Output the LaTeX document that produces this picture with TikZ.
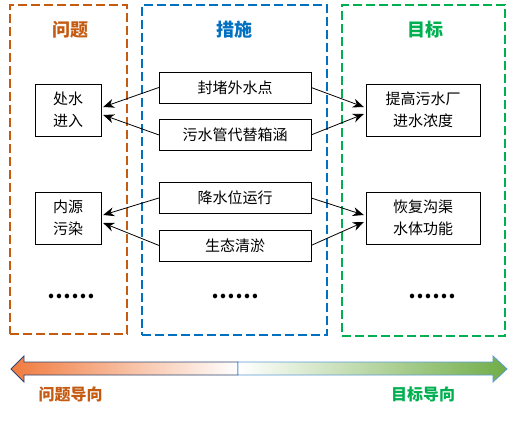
\documentclass[tikz,border=0pt]{standalone}
\usepackage{fontspec}
\newfontfamily\cjk{Noto Sans CJK SC}
\usepackage{tikz}
\usetikzlibrary{arrows,arrows.meta,shapes,positioning,calc}

\definecolor{probcolor}{HTML}{C55A11}
\definecolor{meascolor}{HTML}{0070C0}
\definecolor{goalcolor}{HTML}{00B050}
\definecolor{barorange}{HTML}{F07B3F}
\definecolor{bargreen}{HTML}{70AD47}
\definecolor{barnavy}{HTML}{2F4570}
\definecolor{barblue}{HTML}{5B9BD5}

\begin{document}
\begin{tikzpicture}[
    x=1pt, y=-1pt,
    node distance=16pt and 20pt, % vertical gap inside each pair of measures
    frame/.style={rectangle, draw=#1, line width=2.8pt, dash pattern=on 9pt off 4pt},
    title/.style={font=\cjk\bfseries\fontsize{18}{22}\selectfont, text=#1},
    issue/.style={rectangle, draw, thin, minimum width=66pt, minimum height=52pt, align=center, inner sep=0pt, font=\cjk\fontsize{15}{22}\selectfont},
    measure/.style={rectangle, draw, thin, minimum width=152pt, minimum height=31pt, inner sep=0pt, font=\cjk\fontsize{15}{22}\selectfont},
    goal/.style={rectangle, draw, thin, minimum width=114pt, minimum height=52pt, align=center, inner sep=0pt, font=\cjk\fontsize{15}{22}\selectfont},
    more/.style={font=\cjk\bfseries\fontsize{21}{21}\selectfont},
    guide/.style={font=\cjk\bfseries\fontsize{16}{20}\selectfont, text=#1},
    arrow/.style={->, line width=0.8pt, >={Stealth[length=11pt, width=9pt]}}
  ]

    \useasboundingbox (0,0) rectangle (518,420);

    % Dashed column frames
    \node[frame=probcolor, minimum width=117pt, minimum height=329pt] (probframe) at (68.5,169.5) {};
    \node[frame=meascolor, minimum width=185pt, minimum height=330pt] (measframe) at (234.5,170) {};
    \node[frame=goalcolor, minimum width=163pt, minimum height=331pt] (goalframe) at (423.5,170.5) {};

    % Column titles
    \node[title=probcolor] (probtitle) at (70.5,30) {问题};
    \node[title=meascolor] (meastitle) at (234.5,30) {措施};
    \node[title=goalcolor] (goaltitle) at (425,30) {目标};

    % Problems
    \node[issue] (inflow) at (68,110) {处水\\进入};
    \node[issue] (internal) at (68,218) {内源\\污染};

    % Measures
    \node[measure] (seal) at (235,87.5) {封堵外水点};
    \node[measure, below=of seal] (pipe) {污水管代替箱涵};
    \node[measure] (lower) at (235,198) {降水位运行};
    \node[measure, below=of lower] (dredge) {生态清淤};

    % Goals
    \node[goal] (concentration) at (423,110) {提高污水厂\\进水浓度};
    \node[goal] (function) at (423,218) {恢复沟渠\\水体功能};

    % Ellipses
    \node[more] (probmore) at (71.5,296) {……};
    \node[more] (measmore) at (235,296) {……};
    \node[more] (goalmore) at (432,296) {……};

    % Measures to problems
    \draw[arrow] (seal.west) -- ([yshift=3pt, xshift=2pt]inflow.east);
    \draw[arrow] (pipe.west) -- ([yshift=-5pt, xshift=2pt]inflow.east);
    \draw[arrow] (lower.west) -- ([yshift=3pt, xshift=2pt]internal.east);
    \draw[arrow] (dredge.west) -- ([yshift=-5pt, xshift=2pt]internal.east);

    % Measures to goals
    \draw[arrow] (seal.east) -- ([yshift=3pt, xshift=-2pt]concentration.west);
    \draw[arrow] (pipe.east) -- ([yshift=-4pt, xshift=-2pt]concentration.west);
    \draw[arrow] (lower.east) -- ([yshift=3pt, xshift=-2pt]function.west);
    \draw[arrow] (dredge.east) -- ([yshift=-4pt, xshift=-2pt]function.west);

    % Orientation bar
    \shade[left color=barorange, right color=white, draw=barnavy, line width=0.8pt]
      (238,362) -- (24,362) -- (24,356) -- (11,369) -- (24,382) -- (24,375) -- (238,375) -- cycle;
    \shade[left color=white, right color=bargreen, draw=barblue, line width=0.8pt]
      (238,362) -- (493,362) -- (493,356) -- (507,369) -- (493,382) -- (493,375) -- (238,375) -- cycle;
    \node[guide=probcolor] (probguide) at (70.5,394) {问题导向};
    \node[guide=goalcolor] (goalguide) at (423,394) {目标导向};

  \end{tikzpicture}
\end{document}
